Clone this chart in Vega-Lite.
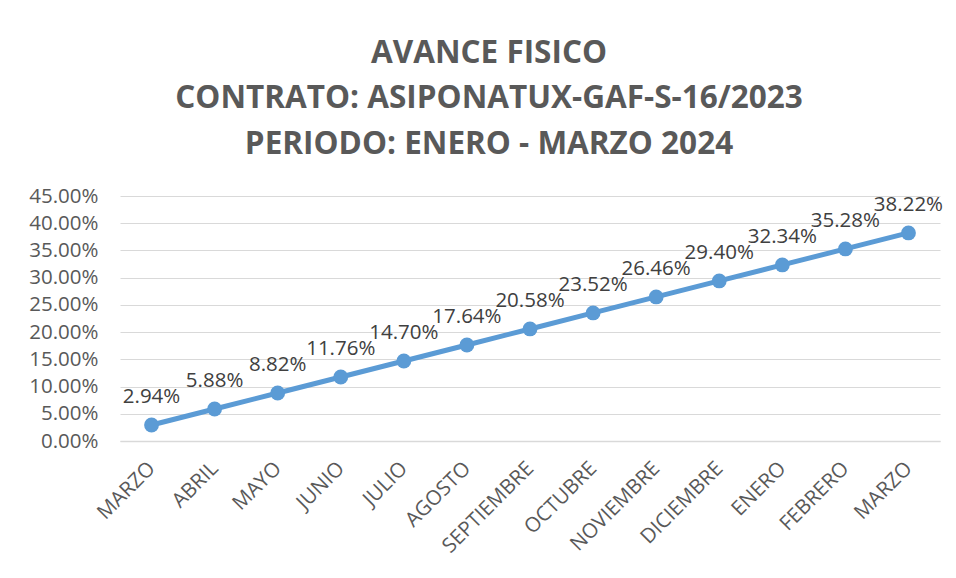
{
  "$schema": "https://vega.github.io/schema/vega-lite/v6.json",
  "autosize": "none",
  "width": 820,
  "height": 245,
  "padding": {"left": 120, "top": 196, "right": 16, "bottom": 137},
  "background": "white",
  "title": {
    "text": ["AVANCE FISICO", "CONTRATO: ASIPONATUX-GAF-S-16/2023", "PERIODO: ENERO - MARZO 2024"],
    "font": "Open Sans",
    "fontSize": 31.5,
    "fontWeight": "bold",
    "color": "#595959",
    "anchor": "middle",
    "dx": -41,
    "lineHeight": 45.5,
    "offset": 26
  },
  "data": {
    "values": [
      {"mes": "MARZO 2023", "avance": 0.0294},
      {"mes": "ABRIL 2023", "avance": 0.0588},
      {"mes": "MAYO 2023", "avance": 0.0882},
      {"mes": "JUNIO 2023", "avance": 0.1176},
      {"mes": "JULIO 2023", "avance": 0.1470},
      {"mes": "AGOSTO 2023", "avance": 0.1764},
      {"mes": "SEPTIEMBRE 2023", "avance": 0.2058},
      {"mes": "OCTUBRE 2023", "avance": 0.2352},
      {"mes": "NOVIEMBRE 2023", "avance": 0.2646},
      {"mes": "DICIEMBRE 2023", "avance": 0.2940},
      {"mes": "ENERO 2024", "avance": 0.3234},
      {"mes": "FEBRERO 2024", "avance": 0.3528},
      {"mes": "MARZO 2024", "avance": 0.3822}
    ]
  },
  "encoding": {
    "x": {
      "field": "mes",
      "type": "ordinal",
      "sort": null,
      "scale": {"paddingInner": 0, "paddingOuter": 0.5},
      "axis": {
        "title": null,
        "labelExpr": "split(datum.label, ' ')[0]",
        "labelAngle": -45,
        "labelAlign": "right",
        "labelBaseline": "middle",
        "labelFont": "Open Sans",
        "labelFontSize": 20.5,
        "labelColor": "#595959",
        "labelPadding": 24,
        "ticks": false,
        "domainColor": "#D9D9D9",
        "domainWidth": 1.5,
        "grid": false
      }
    },
    "y": {
      "field": "avance",
      "type": "quantitative",
      "scale": {"domain": [0, 0.45]},
      "axis": {
        "title": null,
        "format": ".2%",
        "values": [0, 0.05, 0.1, 0.15, 0.2, 0.25, 0.3, 0.35, 0.4, 0.45],
        "labelFont": "Open Sans",
        "labelFontSize": 20.5,
        "labelColor": "#595959",
        "labelPadding": 22,
        "ticks": false,
        "domain": false,
        "grid": true,
        "gridColor": "#D9D9D9",
        "gridWidth": 1.2
      }
    }
  },
  "layer": [
    {"mark": {"type": "line", "color": "#5B9BD5", "strokeWidth": 5}},
    {"mark": {"type": "point", "filled": true, "opacity": 1, "color": "#5B9BD5", "size": 220}},
    {
      "mark": {"type": "text", "font": "Open Sans", "fontSize": 20.5, "color": "#404040", "dy": -28, "align": "center", "baseline": "middle"},
      "encoding": {"text": {"field": "avance", "type": "quantitative", "format": ".2%"}}
    }
  ],
  "config": {"view": {"stroke": null}}
}
